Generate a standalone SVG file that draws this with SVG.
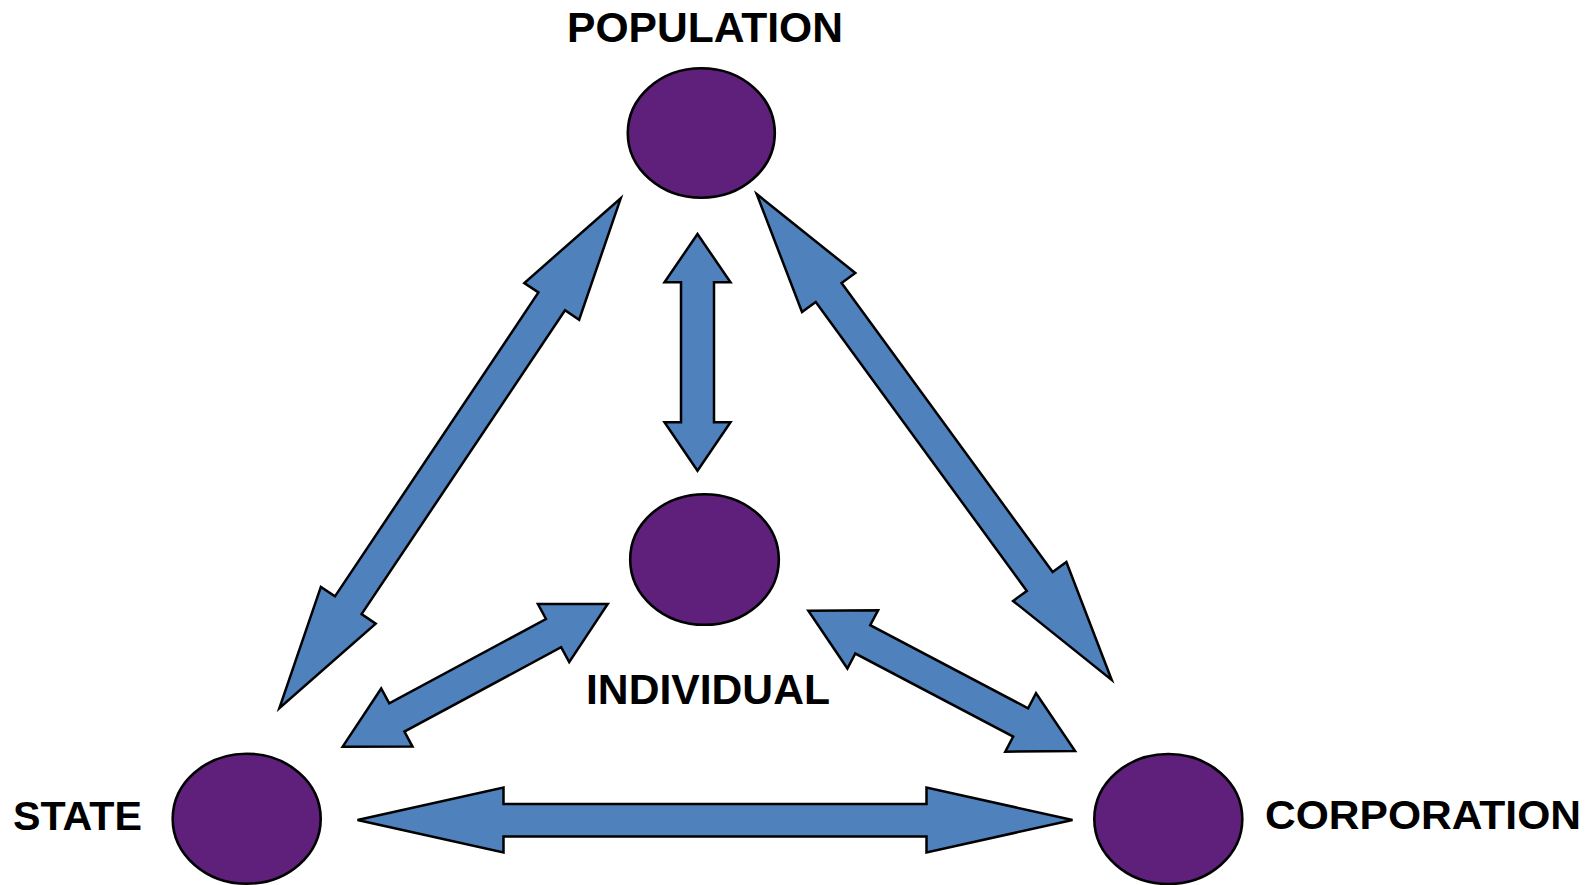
<svg xmlns="http://www.w3.org/2000/svg" width="1591" height="885" viewBox="0 0 1591 885">
  <style>
    .node { fill: #5E207A; stroke: #000; stroke-width: 2.6; }
    .arrow { fill: #4F81BD; stroke: #000; stroke-width: 2.5; stroke-linejoin: miter; }
    .label { font-family: "Liberation Sans", Arial, sans-serif; font-weight: bold; fill: #000; }
  </style>
  <rect width="1591" height="885" fill="#fff"/>

  <!-- double-headed connectors -->
  <g id="connectors">
    <!-- population <-> state -->
    <polygon class="arrow" transform="translate(450,453.3) rotate(-56.2)"
      points="-306.85,0 -182.85,-33 -182.85,-16 182.85,-16 182.85,-33 306.85,0 182.85,33 182.85,16 -182.85,16 -182.85,33"/>
    <!-- population <-> corporation -->
    <polygon class="arrow" transform="translate(934.2,437) rotate(53.85)"
      points="-300.9,0 -178.9,-33 -178.9,-16 178.9,-16 178.9,-33 300.9,0 178.9,33 178.9,16 -178.9,16 -178.9,33"/>
    <!-- population <-> individual -->
    <polygon class="arrow"
      points="697.5,234 730.5,282.3 714,282.3 714,422.3 730.5,422.3 697.5,470.7 664.5,422.3 681,422.3 681,282.3 664.5,282.3"/>
    <!-- state <-> corporation -->
    <polygon class="arrow"
      points="357.5,820 503.5,787.5 503.5,804 926.5,804 926.5,787.5 1072.5,820 926.5,852.5 926.5,836.5 503.5,836.5 503.5,852.5"/>
    <!-- state <-> individual -->
    <polygon class="arrow" transform="translate(475.2,675.3) rotate(-28.3)"
      points="-150.5,0 -89,-33 -89,-16 89,-16 89,-33 150.5,0 89,33 89,16 -89,16 -89,33"/>
    <!-- individual <-> corporation -->
    <polygon class="arrow" transform="translate(941.7,680.9) rotate(27.75)"
      points="-150.7,0 -89.2,-33 -89.2,-16 89.2,-16 89.2,-33 150.7,0 89.2,33 89.2,16 -89.2,16 -89.2,33"/>
  </g>

  <g id="population">
    <ellipse class="node" cx="701.3" cy="133" rx="73.5" ry="64.8"/>
    <text class="label" x="567" y="42.3" font-size="43" textLength="276" lengthAdjust="spacingAndGlyphs">POPULATION</text>
  </g>

  <g id="individual">
    <ellipse class="node" cx="704.5" cy="559.5" rx="74.3" ry="65.3"/>
    <text class="label" x="586" y="704.3" font-size="43" textLength="244" lengthAdjust="spacingAndGlyphs">INDIVIDUAL</text>
  </g>

  <g id="state">
    <ellipse class="node" cx="246.7" cy="818.7" rx="74" ry="65"/>
    <text class="label" x="13" y="829.5" font-size="41" textLength="129" lengthAdjust="spacingAndGlyphs">STATE</text>
  </g>

  <g id="corporation">
    <ellipse class="node" cx="1168.3" cy="819" rx="74" ry="65"/>
    <text class="label" x="1265" y="829.3" font-size="41" textLength="316" lengthAdjust="spacingAndGlyphs">CORPORATION</text>
  </g>
</svg>
